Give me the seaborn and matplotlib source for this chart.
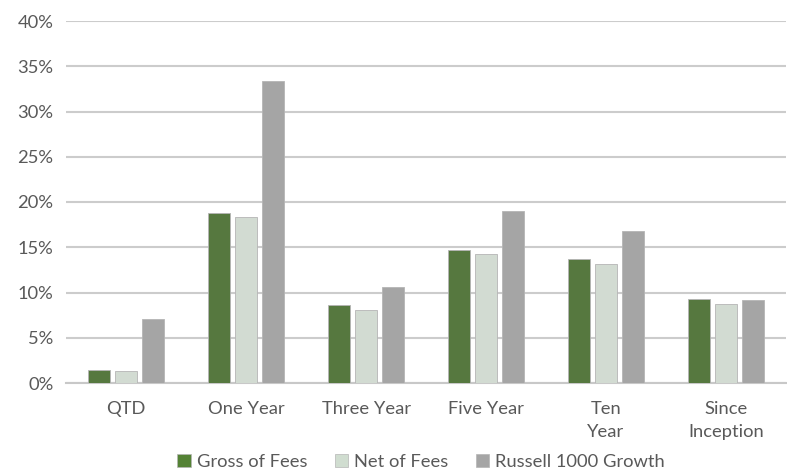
import matplotlib
matplotlib.use("Agg")
import matplotlib.pyplot as plt
import seaborn as sns
import pandas as pd
from matplotlib.ticker import FuncFormatter, MultipleLocator

periods = ["QTD", "One Year", "Three Year", "Five Year", "Ten\nYear", "Since\nInception"]
series = ["Gross of Fees", "Net of Fees", "Russell 1000 Growth"]
gross = [1.4, 18.8, 8.6, 14.7, 13.7, 9.3]
net = [1.3, 18.3, 8.1, 14.3, 13.2, 8.7]
russell = [7.1, 33.4, 10.6, 19.0, 16.8, 9.2]
colors = ["#548235", "#d0ddd0", "#a5a5a5"]

rows = []
for s, vals in zip(series, [gross, net, russell]):
    for p, v in zip(periods, vals):
        rows.append({"Period": p, "Series": s, "Value": v})
df = pd.DataFrame(rows)

sns.set_theme(style="white")
plt.rcParams["font.family"] = ["Lato", "DejaVu Sans"]

fig = plt.figure(figsize=(7.87, 4.72), dpi=100)
ax = fig.add_axes([66/787, (472-383)/472, 720/787, 362/472])

sns.barplot(data=df, x="Period", y="Value", hue="Series", order=periods,
            hue_order=series, palette=colors, width=0.675, gap=0.2,
            edgecolor="#b5b5b5", linewidth=0.6, ax=ax, zorder=3)

ax.set_ylim(0, 40)
ax.yaxis.set_major_locator(MultipleLocator(5))
ax.yaxis.set_major_formatter(FuncFormatter(lambda v, _: f"{v:.0f}%"))
ax.grid(axis="y", color="#cccccc", linewidth=1.5, zorder=0)
ax.set_axisbelow(True)
for sp in ["top", "right", "left"]:
    ax.spines[sp].set_visible(False)
ax.spines["bottom"].set_color("#c8c8c8")
ax.spines["bottom"].set_linewidth(1.5)
ax.set_xlabel("")
ax.set_ylabel("")
ax.tick_params(axis="both", length=0, labelsize=13.2, labelcolor="#595959")
ax.tick_params(axis="x", pad=13)
ax.tick_params(axis="y", pad=9)
for t in ax.get_xticklabels():
    t.set_linespacing(1.5)

ax.legend_.remove()
handles = [plt.Rectangle((0, 0), 1, 1, facecolor=c, edgecolor="#b5b5b5", linewidth=0.5) for c in colors]
fig.legend(handles, series, loc="center", bbox_to_anchor=(421/787, 1-462/472), ncol=3,
           frameon=False, fontsize=13.2, labelcolor="#595959", handlelength=0.75,
           handleheight=0.75, handletextpad=0.3, columnspacing=1.5, borderpad=0)

fig.savefig("out.png", dpi=100)
